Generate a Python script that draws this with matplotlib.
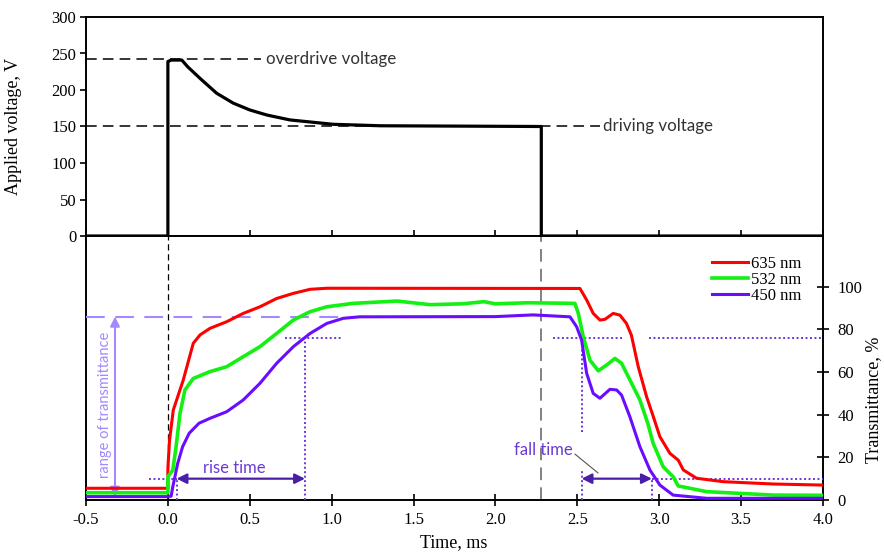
import matplotlib
matplotlib.use("Agg")
import matplotlib.pyplot as plt
from matplotlib.ticker import MultipleLocator, FixedLocator

# ---------------- data ----------------
t_volt = [-0.5, 0.0, 0.0, 0.02, 0.085, 0.12, 0.196, 0.298, 0.399, 0.501, 0.603, 0.745,
          0.908, 1.01, 1.3, 1.8, 2.28, 2.28, 4.0]
volt = [0, 0, 239, 241, 241, 232, 216, 195.5, 182, 172.6, 165.8, 159,
        155.3, 153, 151, 150.5, 150, 0, 0]

overdrive_v = 243
driving_v = 151

t_red = [-0.5, 0.0, 0.0, 0.01, 0.033, 0.094, 0.155, 0.196, 0.257, 0.359, 0.46, 0.562,
         0.664, 0.766, 0.868, 0.97, 1.07, 2.516, 2.557, 2.597, 2.638, 2.668, 2.719, 2.76,
         2.8, 2.83, 2.872, 2.923, 2.96, 3.004, 3.065, 3.116, 3.147, 3.228, 3.39, 3.696, 4.0]
T_red = [5.5, 5.5, 15, 28, 42.2, 56.3, 73.5, 77.4, 80.5, 83.6, 87.5, 90.6,
         94.5, 96.9, 98.8, 99.3, 99.3, 99.2, 93.8, 87.5, 84.4, 84.7, 87.5, 86.7,
         82.8, 77.3, 62.5, 48.4, 40, 29.7, 21.9, 18.7, 14.1, 10.2, 8.6, 7.5, 7.0]

t_green = [-0.5, 0.0, 0.0, 0.03, 0.05, 0.074, 0.104, 0.155, 0.257, 0.359, 0.46, 0.562,
           0.664, 0.766, 0.868, 0.97, 1.13, 1.4, 1.6, 1.8, 1.93, 2.0, 2.2, 2.485, 2.506,
           2.536, 2.577, 2.628, 2.679, 2.73, 2.77, 2.821, 2.882, 2.93, 2.963, 3.024, 3.085,
           3.116, 3.29, 3.696, 4.0]
T_green = [3.4, 3.4, 10.9, 14, 25, 40.6, 51.6, 57, 60.2, 62.5, 67.2, 71.9,
           78.1, 84.4, 88.3, 90.6, 92.2, 93.3, 91.6, 92, 93, 92, 92.5, 92.2, 87.5,
           76.6, 65.6, 60.6, 63.3, 66.4, 64.1, 56.3, 46.9, 36, 26.6, 15.6, 10.9,
           6.6, 3.9, 2.3, 2.2]

t_blue = [-0.5, 0.0, 0.02, 0.03, 0.06, 0.09, 0.13, 0.19, 0.257, 0.359, 0.46, 0.562,
          0.664, 0.766, 0.868, 0.97, 1.071, 1.17, 2.0, 2.23, 2.455, 2.496, 2.526, 2.557,
          2.597, 2.638, 2.699, 2.74, 2.77, 2.821, 2.882, 2.943, 3.004, 3.085, 3.29, 4.0]
T_blue = [1.6, 1.6, 1.8, 6.2, 17.2, 25, 31.3, 36, 38.3, 41.4, 46.9, 54.7,
          64.1, 71.9, 78.1, 82.8, 85.2, 85.9, 86, 86.8, 85.9, 81.2, 75, 59.4,
          50, 47.7, 51.9, 51.6, 49.2, 39, 25, 14.1, 7, 2.3, 0.8, 0.8]

labels = ["635 nm", "532 nm", "450 nm"]

# annotation levels / times
level_low = 10
level_high = 76
range_top = 86
range_bottom = 1.5
rise_start, rise_end = 0.053, 0.837
fall_start, fall_end = 2.526, 2.955
pulse_on, pulse_off = 0.0, 2.28

# ---------------- figure ----------------
plt.rcParams['font.family'] = ['Liberation Serif', 'DejaVu Serif']
fig = plt.figure(figsize=(8.84, 5.53), dpi=100)
L, W = 86 / 884, 737 / 884
ax1 = fig.add_axes([L, 1 - 236 / 553, W, 219 / 553])
ax2 = fig.add_axes([L, 1 - 500 / 553, W, 264 / 553], sharex=ax1)

for ax in (ax1, ax2):
    for s in ax.spines.values():
        s.set_linewidth(1.4)

TICK = 12

# --- top: voltage ---
ax1.plot(t_volt, volt, color='black', lw=2.3, zorder=3)
ax1.plot([-0.5, 0.57], [overdrive_v] * 2, color='black', lw=1.1, ls=(0, (7, 4)))
ax1.plot([-0.5, 2.64], [driving_v] * 2, color='black', lw=1.1, ls=(0, (7, 4)))
ax1.text(0.6, overdrive_v, "overdrive voltage", family='Lato', fontsize=12.2,
         color='#333333', va='center', ha='left')
ax1.text(2.655, driving_v, "driving voltage", family='Lato', fontsize=12.2,
         color='#333333', va='center', ha='left')
ax1.set_xlim(-0.5, 4.0)
ax1.set_ylim(0, 300)
ax1.yaxis.set_major_locator(MultipleLocator(50))
ax1.xaxis.set_major_locator(MultipleLocator(0.5))
ax1.tick_params(axis='x', direction='inout', length=9, width=1.2, labelbottom=False)
ax1.tick_params(axis='y', direction='out', length=4, width=1.2, labelsize=TICK, pad=3)
ax1.set_ylabel("Applied voltage, V", fontsize=13)
ax1.yaxis.set_label_coords(-0.087, 0.5)

# --- bottom: transmittance ---
colors = ['#ff0000', '#14f014', '#6a0dff']
ax2.plot(t_red, T_red, color=colors[0], lw=2.2, label=labels[0], zorder=4)
ax2.plot(t_green, T_green, color=colors[1], lw=2.6, label=labels[1], zorder=4)
ax2.plot(t_blue, T_blue, color=colors[2], lw=2.2, label=labels[2], zorder=4)

ax2.axvline(pulse_on, color='black', lw=0.9, ls=(0, (5, 3)), zorder=2)
ax2.axvline(pulse_off, color='#777777', lw=1.3, ls=(0, (7, 4)), zorder=2)

light = '#a488ff'
dot = '#6a3ad6'
dark = '#4a1fa8'
ax2.plot([-0.5, 1.07], [range_top] * 2, color=light, lw=1.5, ls=(0, (9, 5)), zorder=3)
ax2.annotate('', xy=(-0.323, range_bottom), xytext=(-0.323, range_top),
             arrowprops=dict(arrowstyle='<|-|>', color=light, lw=1.5, mutation_scale=14,
                             shrinkA=0, shrinkB=0), zorder=3)
ax2.text(-0.385, 44.5, "range of transmittance", rotation=90, family='Lato', fontsize=10.5,
         color=light, ha='center', va='center')

dkw = dict(color=dot, lw=1.4, ls=(0, (1, 1.3)), zorder=3)
# rise
ax2.plot([-0.115, rise_start], [level_low] * 2, **dkw)
ax2.plot([rise_start] * 2, [0, level_low], **dkw)
ax2.plot([rise_end] * 2, [0, level_high], **dkw)
ax2.plot([0.715, 1.06], [level_high] * 2, **dkw)
ax2.annotate('', xy=(rise_end, level_low), xytext=(rise_start, level_low),
             arrowprops=dict(arrowstyle='<|-|>', color=dark, lw=1.6, mutation_scale=15,
                             shrinkA=0, shrinkB=0), zorder=5)
ax2.text(0.405, 14.8, "rise time", family='Lato', fontsize=12, color=dot,
         ha='center', va='center')
# fall
ax2.plot([2.35, 2.77], [level_high] * 2, **dkw)
ax2.plot([2.94, 4.0], [level_high] * 2, **dkw)
ax2.plot([fall_start] * 2, [32, level_high], **dkw)
ax2.plot([fall_start] * 2, [0, 14], **dkw)
ax2.plot([fall_end] * 2, [0, level_low], **dkw)
ax2.plot([fall_end, 4.0], [level_low] * 2, **dkw)
ax2.annotate('', xy=(fall_end, level_low), xytext=(fall_start, level_low),
             arrowprops=dict(arrowstyle='<|-|>', color=dark, lw=1.6, mutation_scale=15,
                             shrinkA=0, shrinkB=0), zorder=5)
ax2.text(2.29, 23.4, "fall time", family='Lato', fontsize=12, color=dot,
         ha='center', va='center')
ax2.plot([2.486, 2.626], [21.5, 12.7], color='#555555', lw=0.8, zorder=3)

ax2.set_ylim(0, 123.8)
ax2.xaxis.set_major_locator(MultipleLocator(0.5))
ax2.xaxis.set_major_formatter(plt.FuncFormatter(lambda v, p: f"{v:.1f}"))
ax2.tick_params(axis='x', direction='inout', length=9, width=1.2, labelsize=TICK, pad=4)
ax2.yaxis.tick_right()
ax2.yaxis.set_major_locator(FixedLocator([0, 20, 40, 60, 80, 100]))
ax2.tick_params(axis='y', direction='inout', length=9, width=1.2, labelsize=TICK, pad=6)

fig.text(874 / 884, 1 - 400 / 553, "Transmittance, %", fontsize=13, rotation=90,
         ha='center', va='center')
fig.text(454 / 884, 1 - 543 / 553, "Time, ms", fontsize=13, ha='center', va='center')

ax2.legend(loc='upper left', bbox_to_anchor=(0.849, 0.926), frameon=False, fontsize=12,
           handlelength=2.2, handletextpad=0.15, labelspacing=0.0, borderpad=0,
           borderaxespad=0)

fig.savefig("out.png", dpi=100)
